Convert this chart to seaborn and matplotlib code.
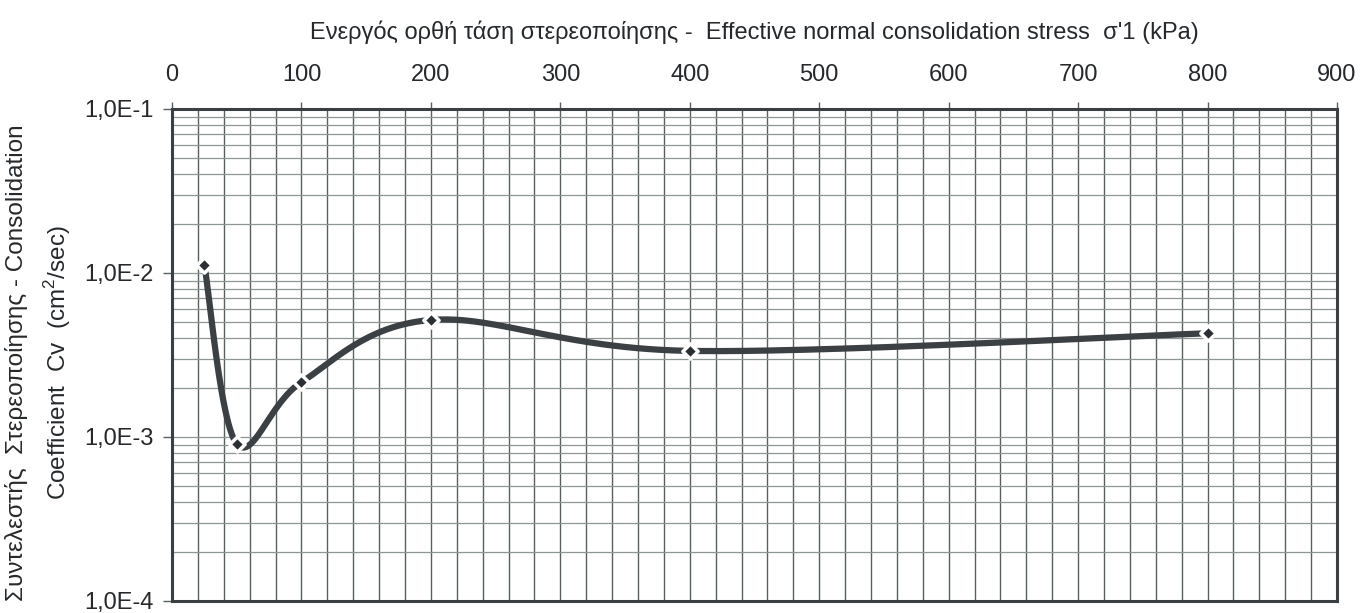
import numpy as np
import pandas as pd
import matplotlib
matplotlib.use("Agg")
import matplotlib.pyplot as plt
from matplotlib.ticker import FixedLocator, MultipleLocator, LogLocator, NullFormatter, FixedFormatter
import seaborn as sns

# Consolidation test results
stress_kpa = [25, 50, 100, 200, 400, 800]
cv_cm2_s = [1.12e-2, 9.1e-4, 2.16e-3, 5.17e-3, 3.35e-3, 4.29e-3]

x_ticks = [0, 100, 200, 300, 400, 500, 600, 700, 800, 900]
y_ticks = [1e-4, 1e-3, 1e-2, 1e-1]
y_tick_labels = ["1,0E-4", "1,0E-3", "1,0E-2", "1,0E-1"]

x_title = "Ενεργός ορθή τάση στερεοποίησης -  Effective normal consolidation stress  σ'1 (kPa)"
y_title = "Συντελεστής  Στερεοποίησης - Consolidation\nCoefficient  Cv  (cm$^2$/sec)"

sns.set_theme(style="white")
plt.rcParams["font.family"] = ["Liberation Sans", "DejaVu Sans"]
plt.rcParams["mathtext.fontset"] = "custom"
plt.rcParams["mathtext.rm"] = "Liberation Sans"

TEXT = "#25292c"
VGRID = "#56625f"
HGRID = "#8e9694"
LINE = "#3b4045"


def smooth_curve(xs, ys, sx=1165 / 900, sy=164.0, n=60):
    """Smoothed line through the points (Catmull-Rom as cubic Bezier), built in
    screen-like units: linear x, logarithmic y."""
    u = np.asarray(xs, float) * sx
    v = np.log10(np.asarray(ys, float)) * sy
    P = np.column_stack([u, v])
    P = np.vstack([P[0], P, P[-1]])
    out = []
    t = np.linspace(0, 1, n)[:, None]
    for i in range(1, len(P) - 2):
        p0, p1, p2, p3 = P[i - 1], P[i], P[i + 1], P[i + 2]
        c1 = p1 + (p2 - p0) / 6.0
        c2 = p2 - (p3 - p1) / 6.0
        seg = ((1 - t) ** 3) * p1 + 3 * ((1 - t) ** 2) * t * c1 + 3 * (1 - t) * t ** 2 * c2 + t ** 3 * p2
        out.append(seg if i == 1 else seg[1:])
    c = np.vstack(out)
    return c[:, 0] / sx, 10 ** (c[:, 1] / sy)


cx, cy = smooth_curve(stress_kpa, cv_cm2_s)
curve = pd.DataFrame({"stress": cx, "cv": cy})
points = pd.DataFrame({"stress": stress_kpa, "cv": cv_cm2_s})

fig = plt.figure(figsize=(13.6, 6.13), dpi=100)
ax = fig.add_axes([172 / 1360, 1 - 601 / 613, (1337 - 172) / 1360, (601 - 109) / 613])

ax.set_yscale("log")
ax.set_xlim(0, 900)
ax.set_ylim(1e-4, 1e-1)

# grid: every 20 kPa vertically, 2..9 per decade horizontally
ax.xaxis.set_major_locator(FixedLocator(x_ticks))
ax.xaxis.set_minor_locator(MultipleLocator(20))
ax.yaxis.set_major_locator(FixedLocator(y_ticks))
ax.yaxis.set_major_formatter(FixedFormatter(y_tick_labels))
ax.yaxis.set_minor_locator(LogLocator(base=10, subs=np.arange(2, 10)))
ax.yaxis.set_minor_formatter(NullFormatter())
ax.grid(which="both", axis="x", color=VGRID, linewidth=1.0)
ax.grid(which="both", axis="y", color=HGRID, linewidth=0.9)
ax.set_axisbelow(True)

sns.lineplot(data=curve, x="stress", y="cv", sort=False, estimator=None,
             color=LINE, linewidth=4.5, ax=ax, zorder=3)
sns.scatterplot(data=points, x="stress", y="cv", marker="D", s=60, color="#2b2f33",
                edgecolor="white", linewidth=2.5, ax=ax, zorder=4)

ax.xaxis.tick_top()
ax.xaxis.set_label_position("top")
ax.tick_params(axis="x", which="major", direction="out", length=5, width=1.0,
               color=VGRID, pad=11.5, labelsize=17, labelcolor=TEXT, top=True, bottom=False)
ax.tick_params(axis="x", which="minor", length=0, top=False, bottom=False)
ax.tick_params(axis="y", which="major", direction="out", length=6.5, width=1.0,
               color=VGRID, pad=7, labelsize=17, labelcolor=TEXT, left=True)
ax.tick_params(axis="y", which="minor", length=0, left=False)

for s in ax.spines.values():
    s.set_color("#3a3f44")
    s.set_linewidth(2.2)

ax.set_xlabel(x_title, fontsize=17, color=TEXT, labelpad=18)
ax.set_ylabel(y_title, fontsize=17.5, color=TEXT, linespacing=1.6, va="center")
ax.yaxis.set_label_coords(-0.1145, 0.485)

fig.savefig("out.png", dpi=100, facecolor="white")
